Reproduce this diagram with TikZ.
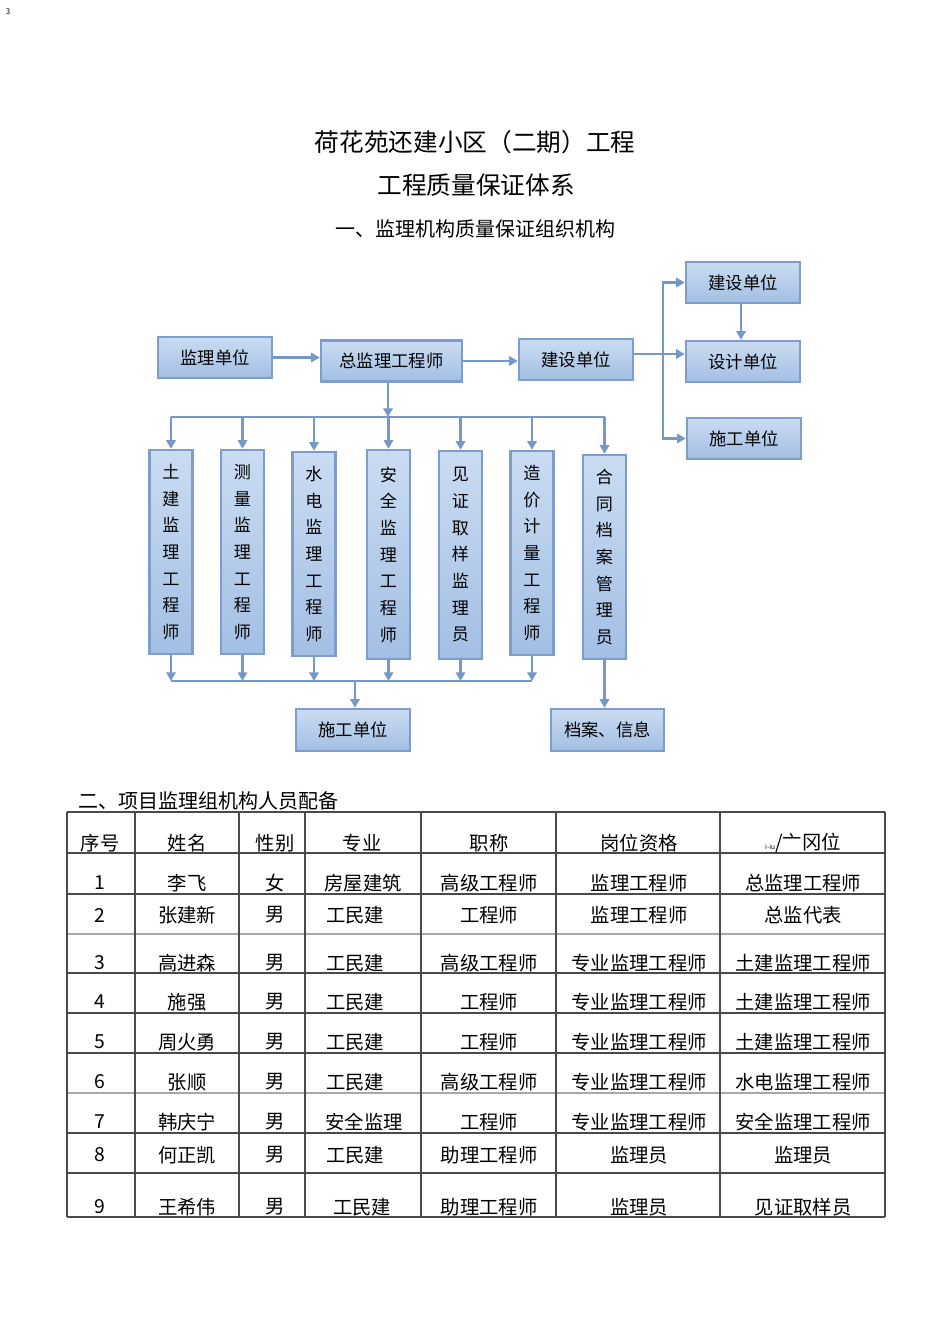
\documentclass[tikz,border=0pt]{standalone}
\usepackage{fontspec}
\setmainfont{Noto Sans CJK SC}
\usetikzlibrary{arrows.meta,calc}

\definecolor{boxtop}{HTML}{CADCF2}
\definecolor{boxbot}{HTML}{A3BFE4}
\definecolor{boxline}{HTML}{7D9ECB}
\definecolor{arrline}{HTML}{7599C6}
\definecolor{tabline}{HTML}{4A4A4A}
\definecolor{tabgray}{HTML}{A8A8A8}

\newcommand\postlabel{{\fontsize{5}{5}\selectfont i-iu}/亠冈位}

\tikzset{
  unitbox/.style={draw=boxline,line width=1.8pt,top color=boxtop,bottom color=boxbot,
    inner sep=0pt,font=\fontsize{13}{15}\selectfont},
  hbox/.style={unitbox,minimum width=85.5pt,minimum height=30.75pt},
  vbox/.style={unitbox,minimum width=32.25pt,align=center,font=\fontsize{12.8}{20}\selectfont},
  link/.style={draw=arrline,line width=1.8pt},
  linkarr/.style={link,-{Triangle[length=6.5pt,width=7pt]}},
  cell/.style={inner sep=0pt,font=\fontsize{14.5}{16}\selectfont}
}

\begin{document}
\begin{tikzpicture}[x=0.75pt,y=-0.75pt]
\useasboundingbox[fill=white] (0,0) rectangle (950,1344);

\node[font=\fontsize{6}{7}\selectfont] (pageno) at (8,12) {3};

% titles
\node[font=\fontsize{18.5}{20}\selectfont] (title) at (475,142) {荷花苑还建小区（二期）工程};
\node[font=\fontsize{18.5}{20}\selectfont] (subtitle) at (476,185) {工程质量保证体系};
\node[font=\fontsize{15}{17}\selectfont] (partone) at (475,229) {一、监理机构质量保证组织机构};

% upper row
\node[hbox] (jldw) at (215,357.5) {监理单位};
\node[hbox,minimum width=105.75pt] (zjl) at (391.5,361) {总监理工程师};
\node[hbox] (jsdw) at (576,359.5) {建设单位};
\node[hbox] (jsdwtop) at (743,282.5) {建设单位};
\node[hbox] (sjdw) at (743,361.5) {设计单位};
\node[hbox] (sgdwright) at (744,438.5) {施工单位};

% engineers
\foreach \nm/\x/\y/\h/\txt in {
  v1/171/552/153pt/{土\\建\\监\\理\\工\\程\\师},
  v2/242.5/552/153pt/{测\\量\\监\\理\\工\\程\\师},
  v3/314/554/153pt/{水\\电\\监\\理\\工\\程\\师},
  v4/388.5/554.5/156.75pt/{安\\全\\监\\理\\工\\程\\师},
  v5/460.5/555/156pt/{见\\证\\取\\样\\监\\理\\员},
  v6/532/553/153pt/{造\\价\\计\\量\\工\\程\\师},
  v7/604.5/557/153pt/{合\\同\\档\\案\\管\\理\\员}}
  \node[vbox,minimum height=\h] (\nm) at (\x,\y) {\txt};

% lower row
\node[hbox,minimum height=31.5pt] (sgdwlow) at (353,730) {施工单位};
\node[hbox,minimum height=31.5pt,minimum width=84.75pt] (daxx) at (607.5,730) {档案、信息};

% links on the right
\coordinate (tr) at (663,354);
\draw[linkarr] (jldw.east) -- (zjl.west |- jldw.east);
\draw[linkarr] (zjl.east) -- (jsdw.west |- zjl.east);
\draw[link] (jsdw.east |- tr) -- (tr);
\draw[linkarr] (tr) -- (sjdw.west |- tr);
\draw[linkarr] (tr) |- (jsdwtop.west);
\draw[linkarr] (tr) |- (sgdwright.west);
\draw[linkarr] (jsdwtop.south -| 741,0) -- (sjdw.north -| 741,0);

% upper bus
\coordinate (bus) at (388,417);
\draw[linkarr] (zjl.south -| bus) -- (bus);
\draw[link] (bus -| v1.north) -- (bus -| v7.north);
\foreach \nm in {v1,v2,v3,v4,v5,v6,v7}
  \draw[linkarr] (bus -| \nm.north) -- (\nm.north);

% lower bus
\coordinate (lowbus) at (355,681);
\draw[link] (lowbus -| v1.south) -- (lowbus -| v6.south);
\foreach \nm in {v1,v2,v3,v4,v5,v6}
  \draw[linkarr] (\nm.south) -- (lowbus -| \nm.south);
\draw[linkarr] (lowbus) -- (lowbus |- sgdwlow.north);
\draw[linkarr] (v7.south) -- (v7.south |- daxx.north);

% staff table
\node[anchor=west,font=\fontsize{15}{17}\selectfont] (parttwo) at (74,801) {二、项目监理组机构人员配备};
\foreach \y in {812,853,894,973,1013,1053,1133,1173,1217}
  \draw[tabline,line width=0.8pt] (67,\y) -- (885,\y);
\foreach \y in {934,1093}
  \draw[tabgray,line width=1.8pt] (67,\y) -- (885,\y);
\foreach \x in {67,135,239,305,421,556,720,885}
  \draw[tabline,line width=0.8pt] (\x,812) -- (\x,1217);

\foreach \y/\xd/\ca/\cb/\cc/\cd/\ce/\cf/\cg [count=\r] in {
  843/362/序号/姓名/性别/专业/职称/岗位资格/\postlabel,
  883/363/1/李飞/女/房屋建筑/高级工程师/监理工程师/总监理工程师,
  915/355/2/张建新/男/工民建/工程师/监理工程师/总监代表,
  963/355/3/高进森/男/工民建/高级工程师/专业监理工程师/土建监理工程师,
  1002/355/4/施强/男/工民建/工程师/专业监理工程师/土建监理工程师,
  1042/355/5/周火勇/男/工民建/工程师/专业监理工程师/土建监理工程师,
  1082/355/6/张顺/男/工民建/高级工程师/专业监理工程师/水电监理工程师,
  1122/364/7/韩庆宁/男/安全监理/工程师/专业监理工程师/安全监理工程师,
  1155/355/8/何正凯/男/工民建/助理工程师/监理员/监理员,
  1207/362/9/王希伟/男/工民建/助理工程师/监理员/见证取样员}{
  \node[cell] (c\r-1) at (100,\y) {\ca};
  \node[cell] (c\r-2) at (187,\y) {\cb};
  \node[cell] (c\r-3) at (275,\y) {\cc};
  \node[cell] (c\r-4) at (\xd,\y) {\cd};
  \node[cell] (c\r-5) at (489,\y) {\ce};
  \node[cell] (c\r-6) at (639,\y) {\cf};
  \node[cell] (c\r-7) at (803,\y) {\cg};
}
\end{tikzpicture}
\end{document}
